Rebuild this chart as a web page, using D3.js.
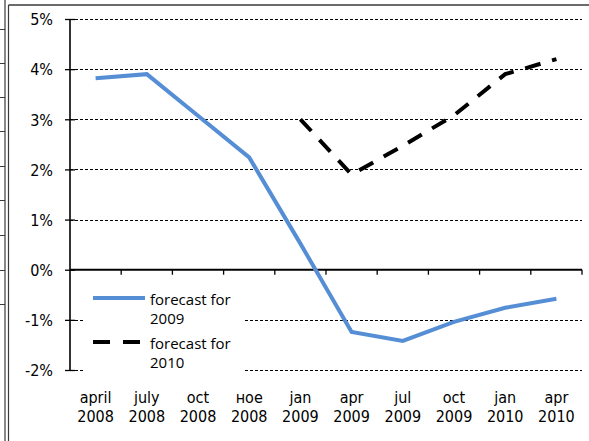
<!DOCTYPE html>
<html>
<head>
<meta charset="utf-8">
<script src="https://cdn.jsdelivr.net/npm/d3@7"></script>
<style>
  html, body { margin: 0; padding: 0; background: #fff; }
  svg { display: block; }
</style>
</head>
<body>
<script>
// ---- data ----
const categories = [
  ["april", "2008"], ["july", "2008"], ["oct", "2008"], ["ное", "2008"], ["jan", "2009"],
  ["apr", "2009"], ["jul", "2009"], ["oct", "2009"], ["jan", "2010"], ["apr", "2010"]
];
const forecast2009 = [3.82, 3.9, 3.07, 2.24, 0.52, -1.24, -1.42, -1.04, -0.76, -0.58];
const forecast2010 = [null, null, null, null, 3.0, 1.9, 2.47, 3.08, 3.9, 4.2];
const yTicks = [-2, -1, 0, 1, 2, 3, 4, 5];
const seriesNames = [["forecast for", "2009"], ["forecast for", "2010"]];

(function () {
// ---- layout ----
const W = 589, H = 441;
const pl = 70, pr = 582, pt = 19, pb = 370;
const svg = d3.select("body").append("svg").attr("width", W).attr("height", H);

// frame (pieces of the surrounding document)
const frame = svg.append("g").attr("stroke", "#3a3a3a").attr("fill", "none");
frame.append("line").attr("x1", 8.5).attr("x2", W).attr("y1", 5).attr("y2", 5).attr("stroke-width", 1.5);
frame.append("line").attr("x1", 5).attr("x2", 5).attr("y1", 0).attr("y2", H).attr("stroke-width", 1.2);
frame.append("line").attr("x1", 8.5).attr("x2", 8.5).attr("y1", 5).attr("y2", H).attr("stroke-width", 1.2);
[29, 63, 97, 131, 166, 200, 235, 270, 304].forEach(yy => {
  frame.append("line").attr("x1", 0).attr("x2", 5).attr("y1", yy + 0.5).attr("y2", yy + 0.5).attr("stroke-width", 1);
});

const x = d3.scaleBand().domain(d3.range(categories.length)).range([pl, pr]);
const y = d3.scaleLinear().domain([-2, 5]).range([pb, pt]);
const cx = i => x(i) + x.bandwidth() / 2;

const fontTick = "'DejaVu Sans Condensed', 'DejaVu Sans', sans-serif";

// gridlines
svg.append("g").selectAll("line").data(yTicks.filter(d => d !== 0)).join("line")
  .attr("x1", pl).attr("x2", pr)
  .attr("y1", d => Math.round(y(d)) + 0.5).attr("y2", d => Math.round(y(d)) + 0.5)
  .attr("stroke", "#000").attr("stroke-width", 1).attr("stroke-dasharray", "3,2");

// y axis
const yAxis = svg.append("g").attr("transform", `translate(${pl},0)`)
  .call(d3.axisLeft(y).tickValues(yTicks).tickFormat(d => d + "%").tickSize(5).tickPadding(12));
yAxis.select(".domain").remove();
yAxis.selectAll(".tick line").attr("x1", -5).attr("x2", 5).attr("stroke", "#000").attr("stroke-width", 1.3);
yAxis.selectAll(".tick text").attr("font-family", fontTick).attr("font-size", 16).attr("fill", "#000")
  .attr("x", -17).attr("dy", "0.36em");
svg.append("line").attr("x1", pl).attr("x2", pl).attr("y1", y(5)).attr("y2", y(-2))
  .attr("stroke", "#000").attr("stroke-width", 1.6);

// x axis at zero
svg.append("line").attr("x1", pl).attr("x2", pr).attr("y1", y(0)).attr("y2", y(0))
  .attr("stroke", "#000").attr("stroke-width", 2);
const boundaries = d3.range(1, categories.length + 1).map(i => i < categories.length ? x(i) : pr);
svg.append("g").selectAll("line").data(boundaries).join("line")
  .attr("x1", d => d).attr("x2", d => d).attr("y1", y(0)).attr("y2", y(0) + 5)
  .attr("stroke", "#000").attr("stroke-width", 1.3);

// category labels
const lab = svg.append("g").attr("font-family", fontTick).attr("font-size", 16).attr("fill", "#000")
  .attr("text-anchor", "middle");
categories.forEach((c, i) => {
  const t = lab.append("text").attr("x", cx(i)).attr("y", 403);
  t.append("tspan").attr("x", cx(i)).text(c[0]);
  t.append("tspan").attr("x", cx(i)).attr("y", 422).text(c[1]);
});

// legend background
const lg = svg.append("g");
lg.append("rect").attr("x", 85).attr("y", 283).attr("width", 160).attr("height", 90).attr("fill", "#fff");

// lines
const line = d3.line().defined(d => d != null).x((d, i) => cx(i)).y(d => y(d));
svg.append("path").datum(forecast2009).attr("d", line)
  .attr("fill", "none").attr("stroke", "#558ed5").attr("stroke-width", 4).attr("stroke-linejoin", "miter");
svg.append("path").datum(forecast2010).attr("d", line)
  .attr("fill", "none").attr("stroke", "#000").attr("stroke-width", 4)
  .attr("stroke-dasharray", "16,12").attr("stroke-linecap", "butt");

// legend
const legFont = "'Open Sans', 'Noto Sans', sans-serif";
lg.append("line").attr("x1", 93).attr("x2", 145).attr("y1", 298).attr("y2", 298)
  .attr("stroke", "#558ed5").attr("stroke-width", 4);
lg.append("line").attr("x1", 93).attr("x2", 145).attr("y1", 342).attr("y2", 342)
  .attr("stroke", "#000").attr("stroke-width", 4).attr("stroke-dasharray", "17,13");
const lt = lg.append("g").attr("font-family", legFont).attr("font-size", 15).attr("fill", "#000");
seriesNames.forEach((s, k) => {
  const base = 305 + k * 44;
  lt.append("text").attr("x", 150).attr("y", base).text(s[0]);
  lt.append("text").attr("x", 150).attr("y", base + 19).text(s[1]);
});
})();
</script>
</body>
</html>
